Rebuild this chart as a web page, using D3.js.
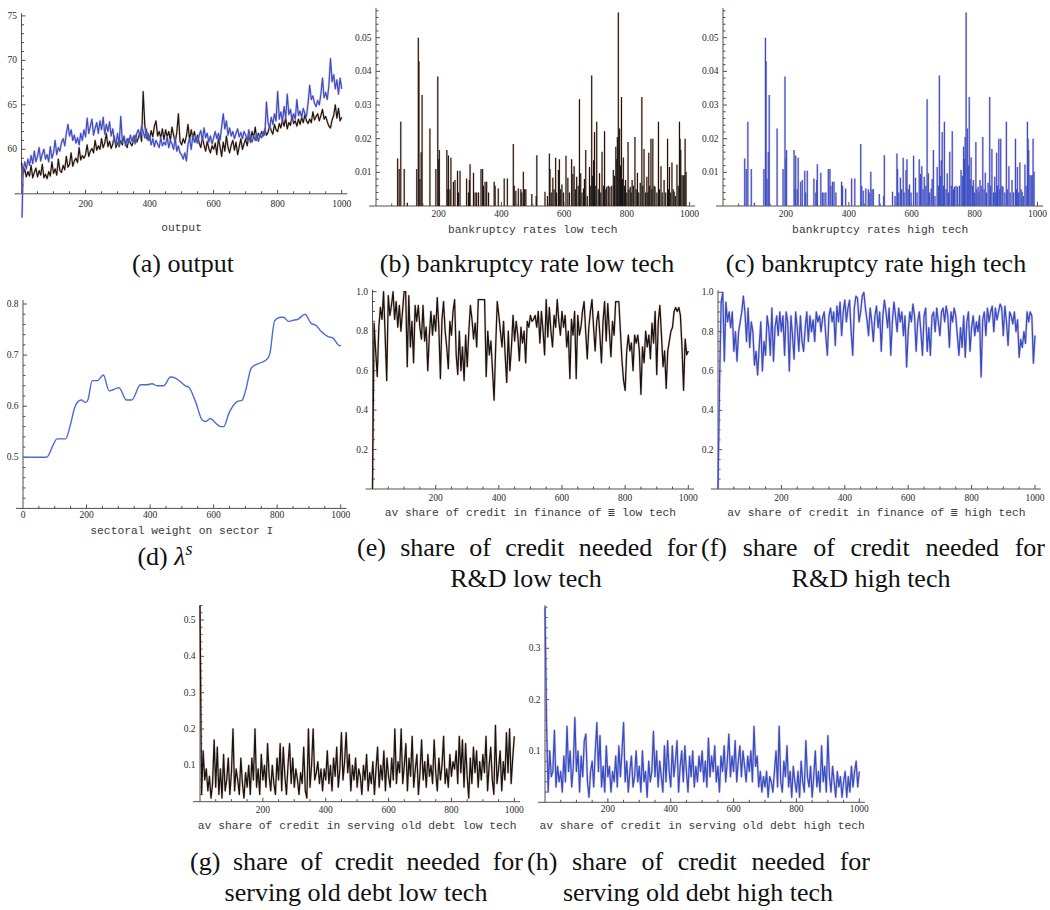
<!DOCTYPE html>
<html><head><meta charset="utf-8">
<script src="https://cdn.jsdelivr.net/npm/d3@7/dist/d3.min.js"></script>
<style>body{margin:0;background:#fff}svg{display:block}
.cap{font-family:"Liberation Serif","Times New Roman",serif;font-size:26px;fill:#111}
.alab{font-family:"Liberation Mono","Courier New",monospace;font-size:11.3px;fill:#3a3a3a}
.tlab{font-family:"Liberation Serif","Times New Roman",serif;font-size:9.5px;fill:#2a2a2a}
</style></head><body>
<svg id="c" width="1050" height="910"></svg>
<script>
// ---------- DATA ----------
const step5 = d3.range(0, 1001, 5); // sampling times of the noisy series
const xTickLabels = [200, 400, 600, 800, 1000];
const xTickLabelsD = [0, 200, 400, 600, 800, 1000];
const yTicksOutput = [60, 65, 70, 75];
const yTicksBank = [0.01, 0.02, 0.03, 0.04, 0.05];
const yTicksLambda = [0.5, 0.6, 0.7, 0.8];
const yTicksRD = [0.2, 0.4, 0.6, 0.8, 1.0];
const yTicksDebtLow = [0.1, 0.2, 0.3, 0.4, 0.5];
const yTicksDebtHigh = [0.1, 0.2, 0.3];

const outputLow = [58.5,57.2,57.8,56.9,57.5,57.0,58.2,56.8,57.4,57.9,
56.9,57.6,57.1,58.3,56.8,57.2,56.7,57.5,57.0,58.6,
57.3,57.8,57.1,58.9,57.6,57.4,58.2,57.7,59.2,58.0,
58.3,59.6,58.1,58.7,59.0,58.5,60.2,58.8,59.3,59.0,
59.4,60.5,59.2,59.8,60.1,59.6,61.0,59.9,60.4,60.0,
61.2,60.2,60.7,61.8,60.3,60.9,60.1,60.6,61.5,60.2,
60.8,60.3,61.0,60.5,61.4,60.6,60.2,61.2,60.7,60.4,
61.0,61.6,60.8,61.3,61.9,60.9,66.5,62.8,61.2,61.8,
61.0,62.1,61.4,62.6,63.2,61.5,62.0,61.3,62.3,61.1,
62.2,61.4,62.0,61.0,62.5,61.6,60.8,61.9,64.0,60.9,
60.5,61.2,60.7,61.5,62.8,61.0,62.2,61.3,62.0,60.8,
61.6,60.7,60.2,61.4,60.5,59.8,60.9,60.1,59.6,60.4,
60.0,60.7,59.4,61.3,60.3,59.2,60.8,59.8,61.5,60.2,
59.6,60.5,61.0,59.9,60.8,59.4,60.3,61.2,60.0,60.6,
61.2,60.4,61.6,60.8,62.0,61.3,62.5,61.0,61.8,61.4,
62.0,61.5,62.3,61.6,61.9,62.7,62.1,61.7,62.8,62.2,
62.0,62.9,62.4,63.3,62.6,63.5,62.3,63.0,62.7,63.8,
62.9,63.2,62.6,63.4,62.8,63.6,63.0,63.9,63.2,62.9,
63.4,63.0,64.2,63.3,63.7,64.0,63.2,63.8,64.5,63.4,
63.7,63.1,62.6,62.4,63.3,63.8,65.0,63.5,64.6,63.2,
63.6];
const outputHigh = [50.0,57.5,58.6,57.8,58.9,58.2,59.3,58.4,59.8,58.6,
59.2,60.2,58.7,59.5,60.0,58.9,59.4,58.6,60.3,59.0,
59.6,61.0,59.4,60.2,59.8,60.8,61.2,60.4,61.8,62.8,
61.5,62.2,61.0,61.6,60.7,61.3,60.5,61.8,61.0,62.2,
61.4,63.5,61.8,62.6,63.4,61.6,62.4,63.0,61.8,63.2,
62.2,63.6,61.7,62.8,62.0,63.1,61.5,62.3,61.0,60.6,
61.8,60.5,63.7,60.8,61.5,60.4,61.2,60.7,61.6,60.9,
61.5,60.6,61.8,62.2,61.4,62.6,62.0,61.3,62.3,61.0,
61.5,60.5,61.2,60.3,61.0,60.6,60.2,61.3,60.4,60.8,
60.5,61.4,60.2,61.0,60.6,60.0,61.2,59.8,60.4,59.6,
59.4,58.9,59.6,58.7,60.6,61.2,60.0,61.5,60.8,61.4,
60.7,61.6,62.1,61.0,62.4,61.3,61.8,60.8,61.5,60.6,
61.3,62.0,61.2,61.8,61.0,62.5,64.0,62.3,63.2,61.6,
62.4,61.5,62.0,61.2,61.8,62.3,61.4,61.9,61.2,62.0,
61.6,61.0,62.2,61.3,60.8,61.5,61.0,61.8,60.9,61.6,
61.3,62.0,61.6,65.3,63.0,62.4,63.6,62.8,64.0,63.2,
66.5,63.4,64.2,63.1,64.8,63.5,66.2,63.9,64.5,63.2,
64.0,63.4,65.6,63.8,64.3,63.6,64.6,64.0,63.7,65.2,
67.2,65.6,66.0,65.2,64.8,65.5,65.0,66.2,68.0,65.8,
66.4,65.6,67.2,70.2,67.6,68.4,66.8,67.8,66.2,68.0,
66.8];

// bankruptcy rates: [time, rate]; the low- and high-tech panels show the same spikes
const bankruptcyLow = [[69,0.0141],[74,0.011],[79,0.025],[90,0.011],[100,0.001],[130,0.011],[135,0.05],[137,0.043],[140,0.008],[144,0.016],[147,0.033],
[172,0.023],[191,0.011],[197,0.0385],[200,0.014],[202,0.0166],[226,0.0166],[229,0.005],[231,0.015],[236,0.005],[239,0.0143],[247,0.0072],[252,0.0077],
[260,0.0105],[263,0.004],[268,0.0105],[289,0.0082],[295,0.004],[298,0.0077],[300,0.0124],[311,0.0099],[316,0.004],[321,0.004],[327,0.004],[335,0.011],
[340,0.011],[343,0.006],[348,0.0072],[353,0.0072],[359,0.004],[377,0.0072],[380,0.006],[390,0.0052],[409,0.0082],[419,0.0082],[438,0.0184],[441,0.006],
[446,0.0045],[454,0.0052],[462,0.005],[465,0.004],[470,0.0102],[474,0.005],[478,0.005],[497,0.0036],[511,0.003],[513,0.0151],[539,0.0042],[547,0.003],
[553,0.0156],[555,0.011],[559,0.004],[564,0.0084],[568,0.005],[573,0.0143],[576,0.004],[582,0.0107],[585,0.0139],[589,0.005],[593,0.0064],[598,0.004],
[606,0.0149],[612,0.0084],[617,0.004],[624,0.0139],[628,0.0095],[632,0.0118],[636,0.005],[640,0.0087],[645,0.006],[649,0.0317],[653,0.0097],[657,0.004],
[662,0.0052],[665,0.008],[669,0.0166],[674,0.003],[681,0.0116],[685,0.006],[688,0.0388],[691,0.009],[694,0.0136],[697,0.022],[701,0.006],[704,0.025],
[709,0.005],[713,0.0097],[717,0.004],[721,0.0161],[726,0.006],[729,0.0222],[733,0.005],[736,0.0057],[741,0.006],[746,0.0057],[752,0.006],[757,0.0107],
[761,0.009],[765,0.0176],[768,0.014],[770,0.0205],[773,0.0575],[777,0.023],[780,0.012],[783,0.0324],[786,0.008],[789,0.0144],[793,0.006],[796,0.0077],
[800,0.004],[804,0.019],[807,0.005],[811,0.0057],[814,0.004],[817,0.0077],[821,0.006],[826,0.0205],[830,0.005],[834,0.0099],[838,0.004],[843,0.0069],
[848,0.0324],[851,0.006],[855,0.0169],[860,0.004],[864,0.0087],[867,0.004],[870,0.0158],[873,0.006],[877,0.02],[880,0.005],[883,0.02],[887,0.006],
[890,0.0057],[896,0.004],[901,0.025],[904,0.005],[909,0.0118],[913,0.004],[919,0.0077],[924,0.004],[930,0.02],[933,0.005],[936,0.0116],[940,0.004],
[944,0.0129],[948,0.005],[951,0.0042],[955,0.003],[960,0.0123],[964,0.006],[968,0.025],[970,0.02],[972,0.0166],[976,0.0092],[980,0.009],[983,0.0092],
[986,0.02],[989,0.0102]];
const bankruptcyHigh = bankruptcyLow; // identical in the figure

// sectoral weight lambda^s
const lambdaT = [0,74,97,107,134,149,162,173,184,197,204,218,234,253,271,302,326,342,370,391,406,422,443,464,480,511,522,543,564,575,590,606,622,632,648,674,690,700,718,732,753,768,777,792,811,820,836,849,865,888,907,923,939,960,974,997,1000];
const lambdaV = [0.5,0.5,0.527,0.536,0.536,0.563,0.596,0.609,0.612,0.607,0.612,0.65,0.65,0.661,0.63,0.636,0.612,0.612,0.642,0.642,0.644,0.64,0.64,0.657,0.655,0.64,0.637,0.609,0.573,0.57,0.576,0.567,0.56,0.56,0.586,0.609,0.612,0.629,0.674,0.681,0.686,0.692,0.703,0.767,0.774,0.774,0.766,0.768,0.77,0.78,0.762,0.758,0.746,0.736,0.734,0.718,0.72];

const rdLow = [0.0,0.84,0.7,0.57,0.82,0.92,0.86,1.0,0.78,0.55,
0.98,0.88,0.93,1.0,0.86,0.95,0.82,0.93,0.8,0.9,
1.0,1.0,0.62,0.98,0.72,0.85,0.64,0.93,0.85,0.93,
0.82,0.76,0.93,0.75,0.82,0.6,0.78,0.9,0.78,0.88,
0.8,0.97,0.82,0.56,0.86,0.95,0.8,0.72,0.61,0.85,
0.78,0.9,0.96,0.68,0.58,0.8,0.6,0.72,0.55,0.78,
0.62,0.8,0.93,0.86,0.76,0.84,0.72,0.96,0.96,0.96,
0.96,0.96,0.57,0.8,0.68,0.75,0.6,0.45,0.72,0.95,
0.88,0.8,0.72,0.85,0.68,0.54,0.8,0.6,0.72,0.88,
0.75,0.85,0.78,0.65,0.82,0.74,0.8,0.64,0.85,0.82,
0.88,0.85,0.86,0.88,0.82,0.9,0.74,0.9,0.8,0.68,
0.96,0.77,0.92,0.8,0.72,0.88,0.82,0.96,0.85,0.78,
0.9,0.82,0.88,0.72,0.8,0.56,0.86,0.78,0.9,0.56,
0.88,0.78,0.82,0.9,0.95,0.8,0.66,0.82,0.9,0.96,
0.82,0.7,0.85,0.9,0.78,0.64,0.85,0.95,0.75,0.94,
0.8,0.67,0.85,0.78,0.95,0.95,0.95,0.8,0.65,0.55,
0.5,0.7,0.78,0.7,0.74,0.6,0.78,0.74,0.78,0.7,
0.48,0.72,0.64,0.8,0.72,0.78,0.66,0.84,0.74,0.9,
0.58,0.85,0.93,0.78,0.62,0.7,0.51,0.7,0.75,0.8,
0.82,0.9,0.92,0.9,0.92,0.88,0.72,0.5,0.76,0.68,
0.7];
const rdHigh = [0.0,0.55,0.95,1.0,0.65,0.95,0.85,0.9,0.82,0.9,
0.7,0.8,0.65,0.8,0.85,0.9,0.98,0.9,0.75,0.92,
0.72,0.85,0.8,0.63,0.7,0.58,0.72,0.85,0.6,0.75,
0.68,0.88,0.82,0.68,0.92,0.65,0.82,0.88,0.78,0.9,
0.8,0.88,0.68,0.9,0.85,0.6,0.88,0.78,0.66,0.9,
0.82,0.7,0.88,0.75,0.7,0.82,0.9,0.75,0.88,0.8,
0.86,0.75,0.9,0.85,0.88,0.8,0.87,0.9,0.78,0.68,
0.88,0.92,0.85,0.9,0.73,0.93,0.85,0.95,0.78,0.9,
0.96,0.85,0.92,0.96,0.8,0.68,0.92,0.98,0.97,0.85,
0.9,0.98,1.0,0.92,0.86,0.78,0.92,0.85,0.75,0.88,
0.93,0.82,0.9,0.7,0.88,0.96,0.9,0.82,0.92,0.68,
0.85,0.95,0.88,0.8,0.92,0.85,0.9,0.78,0.88,0.62,
0.8,0.9,0.85,0.94,0.88,0.7,0.85,0.9,0.8,0.68,
0.88,0.92,0.7,0.82,0.68,0.88,0.9,0.8,0.92,0.85,
0.78,0.9,0.92,0.85,0.93,0.88,0.72,0.9,0.85,0.92,
0.88,0.78,0.68,0.82,0.72,0.88,0.67,0.85,0.9,0.7,
0.82,0.88,0.78,0.85,0.8,0.88,0.57,0.86,0.9,0.78,
0.92,0.85,0.9,0.93,0.8,0.92,0.86,0.9,0.94,0.92,
0.78,0.93,0.85,0.73,0.9,0.88,0.84,0.9,0.8,0.86,
0.67,0.76,0.72,0.8,0.74,0.9,0.85,0.9,0.88,0.64,
0.78];
const debtLow = [0.54,0.02,0.14,0.06,0.09,0.03,0.07,0.01,0.05,0.17,
0.04,0.15,0.02,0.09,0.01,0.13,0.03,0.06,0.12,0.02,
0.08,0.2,0.03,0.09,0.06,0.02,0.12,0.05,0.01,0.08,
0.04,0.1,0.02,0.12,0.06,0.2,0.04,0.09,0.02,0.13,
0.06,0.1,0.04,0.16,0.07,0.03,0.1,0.05,0.02,0.12,
0.06,0.16,0.03,0.15,0.07,0.02,0.1,0.16,0.05,0.12,
0.04,0.09,0.06,0.02,0.08,0.05,0.15,0.03,0.01,0.2,
0.04,0.1,0.2,0.06,0.08,0.11,0.05,0.09,0.03,0.09,
0.06,0.14,0.05,0.1,0.03,0.12,0.07,0.15,0.04,0.09,
0.19,0.06,0.11,0.19,0.08,0.13,0.03,0.1,0.06,0.12,
0.04,0.09,0.07,0.02,0.1,0.06,0.13,0.03,0.08,0.05,
0.11,0.02,0.09,0.15,0.04,0.1,0.06,0.14,0.03,0.12,
0.07,0.04,0.12,0.06,0.2,0.05,0.11,0.08,0.2,0.05,
0.1,0.16,0.03,0.12,0.07,0.18,0.04,0.09,0.13,0.02,
0.08,0.17,0.06,0.11,0.04,0.13,0.07,0.1,0.05,0.17,
0.08,0.03,0.12,0.06,0.1,0.18,0.05,0.09,0.04,0.13,
0.07,0.11,0.09,0.14,0.05,0.18,0.08,0.17,0.04,0.16,
0.07,0.01,0.12,0.05,0.15,0.08,0.14,0.04,0.11,0.06,
0.13,0.08,0.18,0.03,0.1,0.15,0.06,0.02,0.21,0.05,
0.09,0.14,0.03,0.11,0.06,0.19,0.08,0.2,0.05,0.12,
0.18];
const debtHigh = [0.38,0.15,0.02,0.1,0.05,0.06,0.14,0.03,0.07,0.04,
0.06,0.02,0.09,0.04,0.148,0.06,0.1,0.03,0.07,0.165,
0.06,0.1,0.02,0.09,0.05,0.12,0.133,0.04,0.01,0.06,
0.08,0.03,0.1,0.155,0.06,0.13,0.03,0.07,0.02,0.11,
0.05,0.07,0.02,0.06,0.04,0.09,0.03,0.11,0.05,0.1,
0.155,0.04,0.08,0.02,0.06,0.09,0.03,0.05,0.1,0.04,
0.07,0.02,0.1,0.04,0.06,0.01,0.08,0.04,0.06,0.138,
0.05,0.1,0.03,0.08,0.05,0.02,0.11,0.04,0.12,0.06,
0.03,0.11,0.05,0.08,0.12,0.02,0.07,0.1,0.04,0.11,
0.06,0.02,0.09,0.05,0.1,0.03,0.07,0.04,0.09,0.06,
0.1,0.04,0.08,0.03,0.125,0.05,0.09,0.06,0.11,0.04,
0.07,0.02,0.09,0.06,0.11,0.04,0.08,0.133,0.05,0.09,
0.06,0.12,0.04,0.08,0.11,0.05,0.1,0.07,0.04,0.09,
0.06,0.1,0.04,0.148,0.07,0.09,0.03,0.06,0.02,0.05,
0.03,0.06,0.01,0.05,0.04,0.02,0.06,0.1,0.03,0.148,
0.04,0.02,0.08,0.05,0.11,0.03,0.06,0.01,0.07,0.04,
0.02,0.06,0.01,0.08,0.04,0.02,0.12,0.05,0.03,0.07,
0.01,0.05,0.1,0.03,0.06,0.02,0.11,0.04,0.07,0.02,
0.13,0.05,0.02,0.07,0.04,0.01,0.06,0.03,0.05,0.01,
0.04,0.06,0.01,0.05,0.02,0.07,0.03,0.06,0.08,0.03,
0.06];

// ---------- STYLE ----------
const BLACK = "#161616", BLUE = "#3550c2", LBLUE = "#4a6cd2";
const HALO_K = "#eab095", HALO_B = "#c7a0d8";
const AXIS = "#5a4c46";

const svg = d3.select("#c");

const panels = [
 {key:"a", xr:[21.5,341.7], yd:[55,75], yr:[193.8,15.9], axisY:55, axisT:0, yMin:52.3, yMax:75.3,
  yTicks:yTicksOutput, fmt:d3.format("d"), minor:1, major:5, xt:xTickLabels, label:"output", labelY:228, tlY:203.5},
 {key:"b", xr:[376,689.5], yd:[0,0.05], yr:[206,37.7], axisY:0, axisT:0, yMin:-0.0012, yMax:0.0588,
  yTicks:yTicksBank, fmt:d3.format(".2f"), minor:0.002, major:0.01, xt:xTickLabels, label:"bankruptcy rates low tech", labelY:230, tlY:213.5},
 {key:"c", xr:[723,1037.5], yd:[0,0.05], yr:[206,37.7], axisY:0, axisT:0, yMin:-0.0012, yMax:0.0588,
  yTicks:yTicksBank, fmt:d3.format(".2f"), minor:0.002, major:0.01, xt:xTickLabels, label:"bankruptcy rates high tech", labelY:230, tlY:213.5},
 {key:"d", xr:[23,340.7], yd:[0.5,0.8], yr:[457.3,304], axisY:0.4, axisT:0, yMin:0.4, yMax:0.808,
  yTicks:yTicksLambda, fmt:d3.format(".1f"), minor:0.02, major:0.1, xt:xTickLabelsD, label:"sectoral weight on sector I", labelY:531, tlY:515},
 {key:"e", xr:[372.5,688.3], yd:[0,1], yr:[489,291.7], axisY:0, axisT:0, yMin:-0.01, yMax:1.01,
  yTicks:yTicksRD, fmt:d3.format(".1f"), minor:0.05, major:0.2, xt:xTickLabels, label:"av share of credit in finance of \u2263 low tech", labelY:513, tlY:498},
 {key:"f", xr:[718,1035], yd:[0,1], yr:[489,292.3], axisY:0, axisT:0, yMin:-0.01, yMax:1.01,
  yTicks:yTicksRD, fmt:d3.format(".1f"), minor:0.05, major:0.2, xt:xTickLabels, label:"av share of credit in finance of \u2263 high tech", labelY:513, tlY:498},
 {key:"g", xr:[200,514.3], yd:[0,0.5], yr:[801.7,620], axisY:0, axisT:0, yMin:-0.005, yMax:0.541,
  yTicks:yTicksDebtLow, fmt:d3.format(".1f"), minor:0.02, major:0.1, xt:xTickLabels, label:"av share of credit in serving old debt low tech", labelY:825.5, tlY:810},
 {key:"h", xr:[545,859.3], yd:[0,0.3], yr:[802.3,648.3], axisY:0, axisT:0, yMin:-0.004, yMax:0.384,
  yTicks:yTicksDebtHigh, fmt:d3.format(".1f"), minor:0.02, major:0.1, xt:xTickLabels, label:"av share of credit in serving old debt high tech", labelY:825.5, tlY:809}
];

function frame(p) {
  const x = d3.scaleLinear().domain([0, 1000]).range(p.xr);
  const y = d3.scaleLinear().domain(p.yd).range(p.yr);
  const g = svg.append("g");
  const clipId = "clip" + p.key;
  svg.append("clipPath").attr("id", clipId).append("rect")
    .attr("x", x(-22)).attr("y", y(p.yMax))
    .attr("width", x(1022) - x(-22)).attr("height", y(p.yMin) - y(p.yMax));
  const ax = g.append("g").attr("stroke", AXIS).attr("stroke-width", 1).attr("fill", "none");
  const y0 = y(p.axisY);
  ax.append("line").attr("x1", x(-22)).attr("x2", x(1018)).attr("y1", y0).attr("y2", y0);
  d3.range(50, 1001, 50).forEach(t => {
    const len = t % 200 === 0 ? 4 : 2.5;
    ax.append("line").attr("x1", x(t)).attr("x2", x(t)).attr("y1", y0).attr("y2", y0 - len);
  });
  const xa = x(p.axisT);
  ax.append("line").attr("x1", xa).attr("x2", xa).attr("y1", y0).attr("y2", y(p.yMax));
  const k0 = Math.ceil(p.axisY / p.minor - 1e-9), k1 = Math.floor(p.yMax / p.minor + 1e-9);
  for (let k = k0; k <= k1; k++) {
    const v = k * p.minor;
    if (Math.abs(v - p.axisY) < 1e-9) continue;
    const r = v / p.major;
    const isMajor = Math.abs(r - Math.round(r)) < 1e-6;
    ax.append("line").attr("x1", xa).attr("x2", xa + (isMajor ? 4 : 2.5)).attr("y1", y(v)).attr("y2", y(v));
  }
  g.selectAll(null).data(p.xt).join("text").attr("class", "tlab")
    .attr("x", d => x(d)).attr("y", p.tlY).attr("text-anchor", "middle")
    .attr("dominant-baseline", "central").text(d => d);
  g.selectAll(null).data(p.yTicks).join("text").attr("class", "tlab")
    .attr("x", xa - 4.5).attr("y", d => y(d)).attr("text-anchor", "end")
    .attr("dominant-baseline", "central").text(d => p.fmt(d));
  g.append("text").attr("class", "alab").attr("x", (x(0) + x(1000)) / 2).attr("y", p.labelY)
    .attr("text-anchor", "middle").attr("dominant-baseline", "central").text(p.label);
  const plot = g.append("g").attr("clip-path", `url(#${clipId})`);
  return {x, y, plot};
}

function series(ctx, ts, vs, color, halo, w) {
  const line = d3.line().x((d, i) => ctx.x(ts[i])).y(d => ctx.y(d));
  if (halo) ctx.plot.append("path").datum(vs).attr("d", line).attr("fill", "none")
    .attr("stroke", halo).attr("stroke-width", w + 1.2).attr("stroke-opacity", 0.5).attr("stroke-linejoin", "round");
  ctx.plot.append("path").datum(vs).attr("d", line).attr("fill", "none")
    .attr("stroke", color).attr("stroke-width", w).attr("stroke-linejoin", "round");
}
function spikes(ctx, data, color, halo) {
  ctx.plot.selectAll(null).data(data).join("line")
    .attr("x1", d => ctx.x(d[0])).attr("x2", d => ctx.x(d[0]))
    .attr("y1", ctx.y(0)).attr("y2", d => ctx.y(d[1]))
    .attr("stroke", halo).attr("stroke-width", 2.2).attr("stroke-opacity", 0.6);
  ctx.plot.selectAll(null).data(data).join("line")
    .attr("x1", d => ctx.x(d[0])).attr("x2", d => ctx.x(d[0]))
    .attr("y1", ctx.y(0)).attr("y2", d => ctx.y(d[1]))
    .attr("stroke", color).attr("stroke-width", 1.1);
}

const [pa, pb, pc, pd, pe, pf, pg, ph] = panels.map(frame);
series(pa, step5, outputLow, BLACK, HALO_K, 1.2);
series(pa, step5, outputHigh, BLUE, HALO_B, 1.2);
spikes(pb, bankruptcyLow, BLACK, HALO_K);
spikes(pc, bankruptcyHigh, BLUE, HALO_B);
{
  const line = d3.line().x((d, i) => pd.x(lambdaT[i])).y(d => pd.y(d)).curve(d3.curveMonotoneX);
  pd.plot.append("path").datum(lambdaV).attr("d", line).attr("fill", "none").attr("stroke", LBLUE).attr("stroke-width", 1.4);
}
series(pe, step5, rdLow, BLACK, HALO_K, 1.3);
series(pf, step5, rdHigh, BLUE, HALO_B, 1.3);
series(pg, step5, debtLow, BLACK, HALO_K, 1.3);
series(ph, step5, debtHigh, BLUE, HALO_B, 1.3);

// ---------- CAPTIONS ----------
function centered(str, cx, yb) {
  return svg.append("text").attr("class", "cap").attr("x", cx).attr("y", yb).attr("text-anchor", "middle").text(str);
}
function justified(str, x0, x1, yb) {
  const words = str.split(" ");
  const texts = words.map(w => svg.append("text").attr("class", "cap").attr("y", yb).text(w));
  const widths = texts.map(t => t.node().getComputedTextLength());
  const gap = (x1 - x0 - d3.sum(widths)) / (words.length - 1);
  let cx = x0;
  texts.forEach((t, i) => { t.attr("x", cx); cx += widths[i] + gap; });
}
centered("(a) output", 183, 272);
centered("(b) bankruptcy rate low tech", 527, 272);
centered("(c) bankruptcy rate high tech", 876, 272);
{
  const t = svg.append("text").attr("class", "cap").attr("x", 165).attr("y", 565).attr("text-anchor", "middle");
  t.append("tspan").text("(d) ");
  t.append("tspan").attr("font-style", "italic").text("\u03bb");
  t.append("tspan").attr("font-style", "italic").attr("font-size", "18px").attr("dy", -10).text("s");
}
justified("(e) share of credit needed for", 357, 697, 556);
centered("R&D low tech", 526, 587);
justified("(f) share of credit needed for", 701, 1045, 556);
centered("R&D high tech", 871, 587);
justified("(g) share of credit needed for", 190, 523, 870);
centered("serving old debt low tech", 356, 901);
justified("(h) share of credit needed for", 527, 870, 870);
centered("serving old debt high tech", 698, 901);
</script></body></html>
